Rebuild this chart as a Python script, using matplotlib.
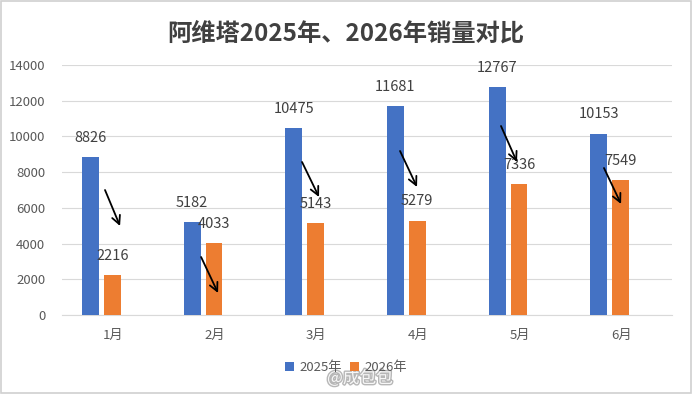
import matplotlib
matplotlib.use("Agg")
import matplotlib.pyplot as plt
import matplotlib.patheffects as pe
import numpy as np

plt.rcParams['font.family'] = ['Noto Sans CJK SC', 'DejaVu Sans']

# data
months = ['1月', '2月', '3月', '4月', '5月', '6月']
sales_2025 = [8826, 5182, 10475, 11681, 12767, 10153]
sales_2026 = [2216, 4033, 5143, 5279, 7336, 7549]
series_names = ['2025年', '2026年']
title = '阿维塔2025年、2026年销量对比'

# hand-drawn arrows (start x offset, start y, end x offset, end y) per month
arrow_start_dx = [-0.077, -0.132, -0.139, -0.175, -0.182, -0.169]
arrow_start_y = [7000, 3248, 8568, 9184, 10584, 8232]
arrow_end_dx = [0.071, 0.035, 0.028, -0.008, -0.025, -0.001]
arrow_end_y = [4984, 1232, 6608, 7168, 8568, 6216]

blue = '#4472C4'
orange = '#ED7D31'
text_col = '#595959'
grid_col = '#d9d9d9'

fig = plt.figure(figsize=(6.92, 3.94), dpi=100)
ax = fig.add_axes([0.0896, 0.2005, 0.8815, 0.6345])

x = np.arange(len(months))
w = 0.167
ax.bar(x - 0.22, sales_2025, width=w, color=blue, label=series_names[0], zorder=3)
ax.bar(x - 0.005, sales_2026, width=w, color=orange, label=series_names[1], zorder=3)

# value labels
for i in range(len(months)):
    ax.annotate(str(sales_2025[i]), (x[i] - 0.22, sales_2025[i]), xytext=(0, 14),
                textcoords='offset points', ha='center', va='center',
                fontsize=10.5, color='#404040', zorder=4)
    ax.annotate(str(sales_2026[i]), (x[i] - 0.005, sales_2026[i]), xytext=(0, 14),
                textcoords='offset points', ha='center', va='center',
                fontsize=10.5, color='#404040', zorder=4)

# arrows
for i in range(len(months)):
    ax.annotate('', xy=(x[i] + arrow_end_dx[i], arrow_end_y[i]),
                xytext=(x[i] + arrow_start_dx[i], arrow_start_y[i]),
                arrowprops=dict(arrowstyle='->,head_length=0.6,head_width=0.3',
                                color='black', lw=1.3, shrinkA=0, shrinkB=0),
                zorder=5)

ax.set_xlim(-0.5, len(months) - 0.5)
ax.set_ylim(0, 14000)
ax.set_yticks(range(0, 14001, 2000))
ax.set_xticks(x)
ax.set_xticklabels(months)
ax.tick_params(axis='both', length=0, colors=text_col, labelsize=9.5)
ax.tick_params(axis='x', pad=10)
ax.tick_params(axis='y', pad=12)
ax.grid(axis='y', color=grid_col, lw=0.8, zorder=0)
for s in ['top', 'right', 'left']:
    ax.spines[s].set_visible(False)
ax.spines['bottom'].set_color(grid_col)

fig.text(0.5, 0.915, title, ha='center', va='center', fontsize=17.5,
         fontweight='bold', color='#404040')

fig.legend(loc='center', bbox_to_anchor=(0.5, 0.066), ncol=2, frameon=False,
           fontsize=9.5, handlelength=0.7, handleheight=0.7, handletextpad=0.4,
           columnspacing=0.6, labelcolor=text_col)

# watermark
fig.text(0.52, 0.04, '@成包包', ha='center', va='center', fontsize=12,
         color='white', alpha=0.9,
         path_effects=[pe.withStroke(linewidth=2, foreground='#b0b0b0')])

# outer frame
fig.patches.append(plt.Rectangle((0.001, 0.002), 0.997, 0.996, transform=fig.transFigure,
                                 fill=False, edgecolor='#d0d0d0', lw=1.2))

plt.savefig('out.png', dpi=100)
